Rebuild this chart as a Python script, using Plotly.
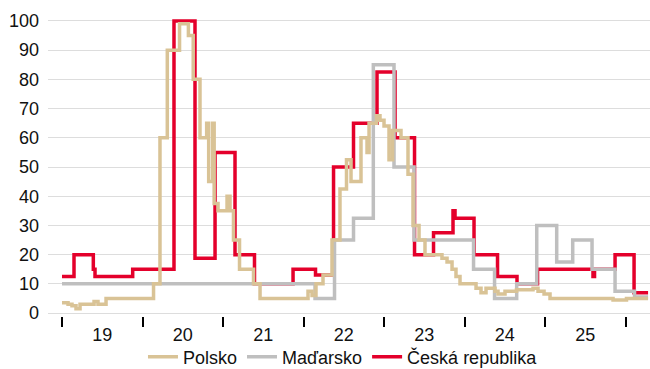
import plotly.graph_objects as go

# Year positions (fractional years) and values (step series)
years_labels = ["19", "20", "21", "22", "23", "24", "25"]
year_ticks = [2019, 2020, 2021, 2022, 2023, 2024, 2025, 2026]

pl_t = [2019.000, 2019.075, 2019.124, 2019.174, 2019.224, 2019.398, 2019.447, 2019.547,
        2020.137, 2020.217, 2020.308, 2020.460, 2020.570, 2020.630, 2020.714, 2020.797,
        2020.822, 2020.872, 2020.890, 2020.938, 2021.050, 2021.087, 2021.130, 2021.205,
        2021.379, 2021.460, 2022.056, 2022.106, 2022.155, 2022.242, 2022.354, 2022.453,
        2022.534, 2022.590, 2022.714, 2022.789, 2022.814, 2022.907, 2022.950, 2023.000,
        2023.062, 2023.106, 2023.211, 2023.298, 2023.360, 2023.435, 2023.509, 2023.720,
        2023.783, 2023.845, 2023.894, 2023.944, 2024.143, 2024.205, 2024.267, 2024.379,
        2024.416, 2024.503, 2024.646, 2024.851, 2024.913, 2024.988, 2025.062, 2025.845,
        2026.012, 2026.280]
pl_v = [3.5, 3, 2.5, 1.5, 3, 4, 3, 5,
        10, 60, 90, 99, 95, 80, 60, 65,
        45, 65, 37.5, 35, 40, 35, 25, 15,
        10, 5, 7.5, 6, 10, 13, 25, 42.5,
        52.5, 45, 60, 55, 65, 67.5, 66, 64,
        52.5, 62.5, 60, 47.5, 30, 25, 20, 18.75,
        17.5, 15, 12.5, 10, 8.5, 7, 8.5, 7.5,
        6.5, 7.5, 8, 8.5, 7.5, 6.5, 5, 4.5,
        5, 5]

hu_t = [2019.000, 2022.143, 2022.385, 2022.621, 2022.867, 2023.124, 2023.373, 2024.112,
        2024.373, 2024.648, 2024.897, 2025.145, 2025.344, 2025.584, 2025.870, 2026.112,
        2026.280]
hu_v = [10, 5, 25, 32.5, 85, 50, 25, 15,
        5, 10, 30, 17.5, 25, 15, 7.5, 5.5,
        5.5]

cz_t = [2019.000, 2019.149, 2019.389, 2019.410, 2019.878, 2020.391, 2020.652, 2020.901,
        2021.149, 2021.391, 2021.870, 2022.149, 2022.373, 2022.621, 2022.913, 2023.137,
        2023.379, 2023.615, 2023.857, 2023.882, 2024.118, 2024.410, 2024.652, 2024.907,
        2025.596, 2025.615, 2025.870, 2026.106, 2026.280]
cz_v = [12.5, 20, 15, 12.5, 15, 100, 18.75, 55,
        20, 10, 15, 13, 50, 65, 82.5, 60,
        20, 27.5, 35, 32.5, 20, 12.5, 10, 15,
        12.5, 15, 20, 7, 7]

C_PL = "#D9C396"
C_HU = "#BFBFBF"
C_CZ = "#E4002B"

fig = go.Figure()
fig.add_trace(go.Scatter(x=cz_t, y=cz_v, mode="lines", name="Česká republika",
                         line=dict(color=C_CZ, width=3.5, shape="hv"), legendrank=3))
fig.add_trace(go.Scatter(x=hu_t, y=hu_v, mode="lines", name="Maďarsko",
                         line=dict(color=C_HU, width=3.5, shape="hv"), legendrank=2))
fig.add_trace(go.Scatter(x=pl_t, y=pl_v, mode="lines", name="Polsko",
                         line=dict(color=C_PL, width=3.5, shape="hv"), legendrank=1))

fig.update_layout(
    width=650, height=369,
    margin=dict(l=48, r=0, t=18, b=53, autoexpand=False),
    plot_bgcolor="white", paper_bgcolor="white",
    font=dict(family="Liberation Sans, Arial, sans-serif", size=18, color="#111111"),
    showlegend=True,
    hovermode=False,
    legend=dict(orientation="h", x=0.49, xanchor="center", y=-0.138, yanchor="middle",
                font=dict(size=18), bgcolor="rgba(0,0,0,0)"),
    xaxis=dict(
        range=[2018.826, 2026.304],
        tickmode="array",
        tickvals=[y + 0.5 for y in year_ticks[:-1]],
        ticktext=years_labels,
        ticks="outside", ticklen=2, tickcolor="rgba(0,0,0,0)",
        showgrid=False, zeroline=False, showline=False, automargin=False,
        minor=dict(tickmode="array", tickvals=year_ticks, ticks="outside",
                   ticklen=10, tickwidth=1.5, tickcolor="black", showgrid=False),
    ),
    yaxis=dict(
        range=[-1, 101],
        tickmode="array",
        tickvals=list(range(0, 101, 10)),
        showgrid=True, gridcolor="#DDDDDD", gridwidth=1,
        zeroline=False, showline=False, ticks="", automargin=False,
        ticklabelstandoff=8,
    ),
)

fig.write_html("out.html", config={"displayModeBar": False},
               post_script="document.body.style.margin='0px';document.body.style.overflow='hidden';")
